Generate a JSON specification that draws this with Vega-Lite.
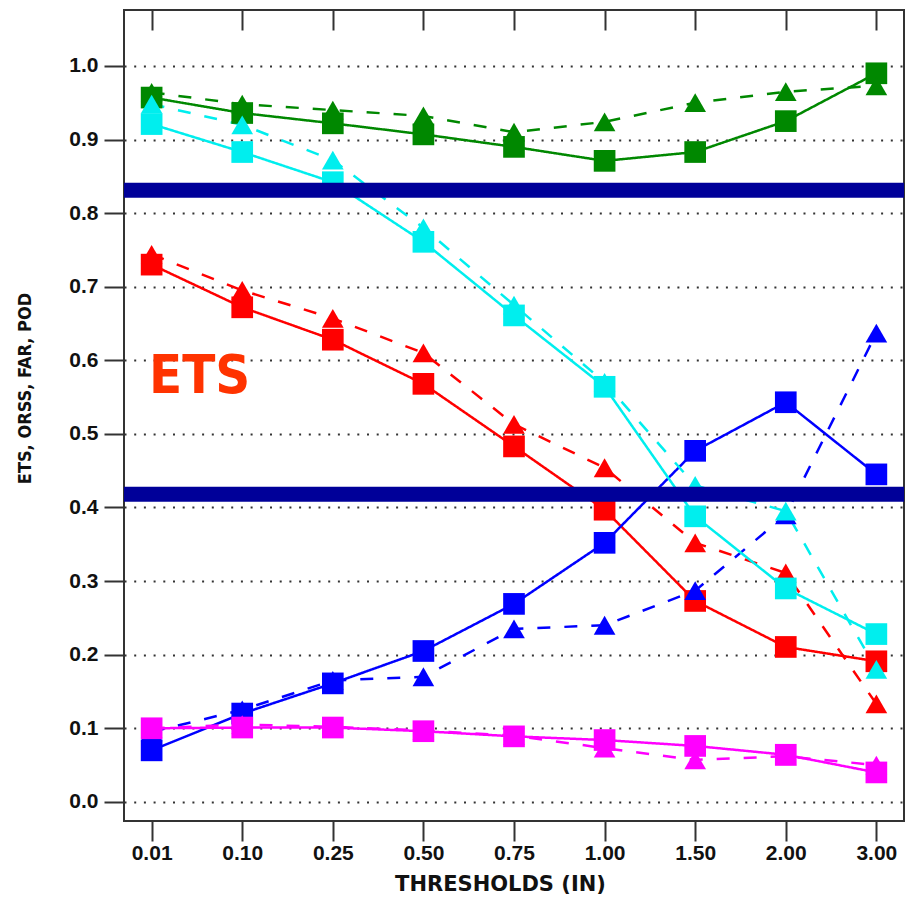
{
  "$schema": "https://vega.github.io/schema/vega-lite/v6.json",
  "autosize": {"type": "none"},
  "padding": {"left": 124, "top": 10, "right": 1, "bottom": 76},
  "width": 780,
  "height": 811,
  "background": "white",
  "config": {
    "view": {"stroke": "#333333", "strokeWidth": 2},
    "axis": {"labelColor": "#111111", "titleColor": "#111111"}
  },
  "datasets": {
    "pts": [
      {"t": "0.01", "s": "green", "k": "sq", "v": 0.957},
      {"t": "0.10", "s": "green", "k": "sq", "v": 0.936},
      {"t": "0.25", "s": "green", "k": "sq", "v": 0.922},
      {"t": "0.50", "s": "green", "k": "sq", "v": 0.907},
      {"t": "0.75", "s": "green", "k": "sq", "v": 0.890},
      {"t": "1.00", "s": "green", "k": "sq", "v": 0.871},
      {"t": "1.50", "s": "green", "k": "sq", "v": 0.883},
      {"t": "2.00", "s": "green", "k": "sq", "v": 0.925},
      {"t": "3.00", "s": "green", "k": "sq", "v": 0.990},
      {"t": "0.01", "s": "green", "k": "tri", "v": 0.964},
      {"t": "0.10", "s": "green", "k": "tri", "v": 0.948},
      {"t": "0.25", "s": "green", "k": "tri", "v": 0.940},
      {"t": "0.50", "s": "green", "k": "tri", "v": 0.932},
      {"t": "0.75", "s": "green", "k": "tri", "v": 0.910},
      {"t": "1.00", "s": "green", "k": "tri", "v": 0.924},
      {"t": "1.50", "s": "green", "k": "tri", "v": 0.950},
      {"t": "2.00", "s": "green", "k": "tri", "v": 0.965},
      {"t": "3.00", "s": "green", "k": "tri", "v": 0.973},
      {"t": "0.01", "s": "red", "k": "sq", "v": 0.730},
      {"t": "0.10", "s": "red", "k": "sq", "v": 0.672},
      {"t": "0.25", "s": "red", "k": "sq", "v": 0.628},
      {"t": "0.50", "s": "red", "k": "sq", "v": 0.568},
      {"t": "0.75", "s": "red", "k": "sq", "v": 0.483},
      {"t": "1.00", "s": "red", "k": "sq", "v": 0.397},
      {"t": "1.50", "s": "red", "k": "sq", "v": 0.273},
      {"t": "2.00", "s": "red", "k": "sq", "v": 0.2105},
      {"t": "3.00", "s": "red", "k": "sq", "v": 0.191},
      {"t": "0.01", "s": "red", "k": "tri", "v": 0.744},
      {"t": "0.10", "s": "red", "k": "tri", "v": 0.695},
      {"t": "0.25", "s": "red", "k": "tri", "v": 0.657},
      {"t": "0.50", "s": "red", "k": "tri", "v": 0.610},
      {"t": "0.75", "s": "red", "k": "tri", "v": 0.513},
      {"t": "1.00", "s": "red", "k": "tri", "v": 0.454},
      {"t": "1.50", "s": "red", "k": "tri", "v": 0.352},
      {"t": "2.00", "s": "red", "k": "tri", "v": 0.311},
      {"t": "3.00", "s": "red", "k": "tri", "v": 0.133},
      {"t": "0.01", "s": "blue", "k": "sq", "v": 0.070},
      {"t": "0.10", "s": "blue", "k": "sq", "v": 0.120},
      {"t": "0.25", "s": "blue", "k": "sq", "v": 0.161},
      {"t": "0.50", "s": "blue", "k": "sq", "v": 0.205},
      {"t": "0.75", "s": "blue", "k": "sq", "v": 0.269},
      {"t": "1.00", "s": "blue", "k": "sq", "v": 0.352},
      {"t": "1.50", "s": "blue", "k": "sq", "v": 0.477},
      {"t": "2.00", "s": "blue", "k": "sq", "v": 0.543},
      {"t": "3.00", "s": "blue", "k": "sq", "v": 0.445},
      {"t": "0.01", "s": "blue", "k": "tri", "v": 0.095},
      {"t": "0.10", "s": "blue", "k": "tri", "v": 0.125},
      {"t": "0.25", "s": "blue", "k": "tri", "v": 0.165},
      {"t": "0.50", "s": "blue", "k": "tri", "v": 0.170},
      {"t": "0.75", "s": "blue", "k": "tri", "v": 0.235},
      {"t": "1.00", "s": "blue", "k": "tri", "v": 0.240},
      {"t": "1.50", "s": "blue", "k": "tri", "v": 0.287},
      {"t": "2.00", "s": "blue", "k": "tri", "v": 0.390},
      {"t": "3.00", "s": "blue", "k": "tri", "v": 0.637},
      {"t": "0.01", "s": "cyan", "k": "sq", "v": 0.921},
      {"t": "0.10", "s": "cyan", "k": "sq", "v": 0.883},
      {"t": "0.25", "s": "cyan", "k": "sq", "v": 0.842},
      {"t": "0.50", "s": "cyan", "k": "sq", "v": 0.761},
      {"t": "0.75", "s": "cyan", "k": "sq", "v": 0.661},
      {"t": "1.00", "s": "cyan", "k": "sq", "v": 0.564},
      {"t": "1.50", "s": "cyan", "k": "sq", "v": 0.388},
      {"t": "2.00", "s": "cyan", "k": "sq", "v": 0.290},
      {"t": "3.00", "s": "cyan", "k": "sq", "v": 0.228},
      {"t": "0.01", "s": "cyan", "k": "tri", "v": 0.948},
      {"t": "0.10", "s": "cyan", "k": "tri", "v": 0.920},
      {"t": "0.25", "s": "cyan", "k": "tri", "v": 0.872},
      {"t": "0.50", "s": "cyan", "k": "tri", "v": 0.780},
      {"t": "0.75", "s": "cyan", "k": "tri", "v": 0.675},
      {"t": "1.00", "s": "cyan", "k": "tri", "v": 0.570},
      {"t": "1.50", "s": "cyan", "k": "tri", "v": 0.430},
      {"t": "2.00", "s": "cyan", "k": "tri", "v": 0.395},
      {"t": "3.00", "s": "cyan", "k": "tri", "v": 0.180},
      {"t": "0.01", "s": "magenta", "k": "sq", "v": 0.100},
      {"t": "0.10", "s": "magenta", "k": "sq", "v": 0.101},
      {"t": "0.25", "s": "magenta", "k": "sq", "v": 0.101},
      {"t": "0.50", "s": "magenta", "k": "sq", "v": 0.096},
      {"t": "0.75", "s": "magenta", "k": "sq", "v": 0.089},
      {"t": "1.00", "s": "magenta", "k": "sq", "v": 0.084},
      {"t": "1.50", "s": "magenta", "k": "sq", "v": 0.076},
      {"t": "2.00", "s": "magenta", "k": "sq", "v": 0.064},
      {"t": "3.00", "s": "magenta", "k": "sq", "v": 0.040},
      {"t": "0.01", "s": "magenta", "k": "tri", "v": 0.100},
      {"t": "0.10", "s": "magenta", "k": "tri", "v": 0.105},
      {"t": "0.25", "s": "magenta", "k": "tri", "v": 0.102},
      {"t": "0.50", "s": "magenta", "k": "tri", "v": 0.097},
      {"t": "0.75", "s": "magenta", "k": "tri", "v": 0.090},
      {"t": "1.00", "s": "magenta", "k": "tri", "v": 0.073},
      {"t": "1.50", "s": "magenta", "k": "tri", "v": 0.057},
      {"t": "2.00", "s": "magenta", "k": "tri", "v": 0.062},
      {"t": "3.00", "s": "magenta", "k": "tri", "v": 0.050}
    ],
    "bars": [{"v": 0.831}, {"v": 0.418}],
    "lbl": [{"t": "0.01", "v": 0.556, "text": "ETS"}]
  },
  "resolve": {"axis": {"x": "independent"}},
  "layer": [
    {
      "data": {"name": "pts"},
      "mark": {"type": "line", "strokeWidth": 2.5},
      "encoding": {
        "x": {
          "field": "t", "type": "ordinal",
          "scale": {"type": "point", "padding": 0.305, "domain": ["0.01", "0.10", "0.25", "0.50", "0.75", "1.00", "1.50", "2.00", "3.00"]},
          "axis": {
            "orient": "bottom", "domain": false, "grid": false,
            "tickSize": 20, "tickWidth": 2, "tickColor": "#333333",
            "labelAngle": 0, "labelFont": "Liberation Sans", "labelFontWeight": "bold", "labelFontSize": 21, "labelPadding": 1,
            "title": "THRESHOLDS (IN)", "titleFont": "DejaVu Sans", "titleFontWeight": "bold", "titleFontSize": 21,
            "titleX": 376, "titleY": 69, "titleAlign": "center", "titleBaseline": "alphabetic"
          }
        },
        "y": {
          "field": "v", "type": "quantitative",
          "scale": {"domain": [-0.026, 1.076], "nice": false, "zero": false},
          "axis": {
            "values": [0, 0.1, 0.2, 0.3, 0.4, 0.5, 0.6, 0.7, 0.8, 0.9, 1.0], "format": ".1f",
            "domain": false, "tickSize": 20, "tickWidth": 2, "tickColor": "#333333",
            "grid": true, "gridDash": [2, 7.7], "gridColor": "#333333", "gridWidth": 2,
            "labelFont": "Liberation Sans", "labelFontWeight": "bold", "labelFontSize": 21, "labelPadding": 6,
            "title": "ETS, ORSS, FAR, POD", "titleFont": "DejaVu Sans Condensed, Liberation Sans", "titleFontWeight": "bold", "titleFontSize": 18,
            "titleAngle": -90, "titleX": -99, "titleY": 378, "titleAlign": "center", "titleBaseline": "middle"
          }
        },
        "color": {"field": "s", "type": "nominal", "scale": {"domain": ["green", "red", "blue", "cyan", "magenta"], "range": ["#008800", "#FF0000", "#0000FF", "#00EEEE", "#FF00FF"]}, "legend": null},
        "strokeDash": {"field": "k", "type": "nominal", "scale": {"domain": ["sq", "tri"], "range": [[1, 0], [13, 14]]}, "legend": null}
      }
    },
    {
      "data": {"name": "pts"},
      "mark": {"type": "point", "filled": true, "opacity": 1, "size": 470},
      "encoding": {
        "x": {
          "field": "t", "type": "ordinal",
          "axis": {"orient": "top", "labels": false, "domain": false, "grid": false, "title": null, "tickSize": -20, "tickWidth": 2, "tickColor": "#333333"}
        },
        "y": {"field": "v", "type": "quantitative"},
        "color": {"field": "s", "type": "nominal", "legend": null},
        "shape": {"field": "k", "type": "nominal", "scale": {"domain": ["sq", "tri"], "range": ["square", "triangle-up"]}, "legend": null}
      }
    },
    {
      "data": {"name": "bars"},
      "mark": {"type": "rule", "strokeWidth": 15, "color": "#000099"},
      "encoding": {"y": {"field": "v", "type": "quantitative"}}
    },
    {
      "data": {"name": "lbl"},
      "mark": {"type": "text", "font": "DejaVu Sans Condensed, Liberation Sans", "fontWeight": "bold", "fontSize": 54, "color": "#FF3300", "align": "center", "baseline": "alphabetic", "dx": 48},
      "encoding": {
        "x": {"field": "t", "type": "ordinal", "axis": null},
        "y": {"field": "v", "type": "quantitative"},
        "text": {"field": "text"}
      }
    }
  ]
}
